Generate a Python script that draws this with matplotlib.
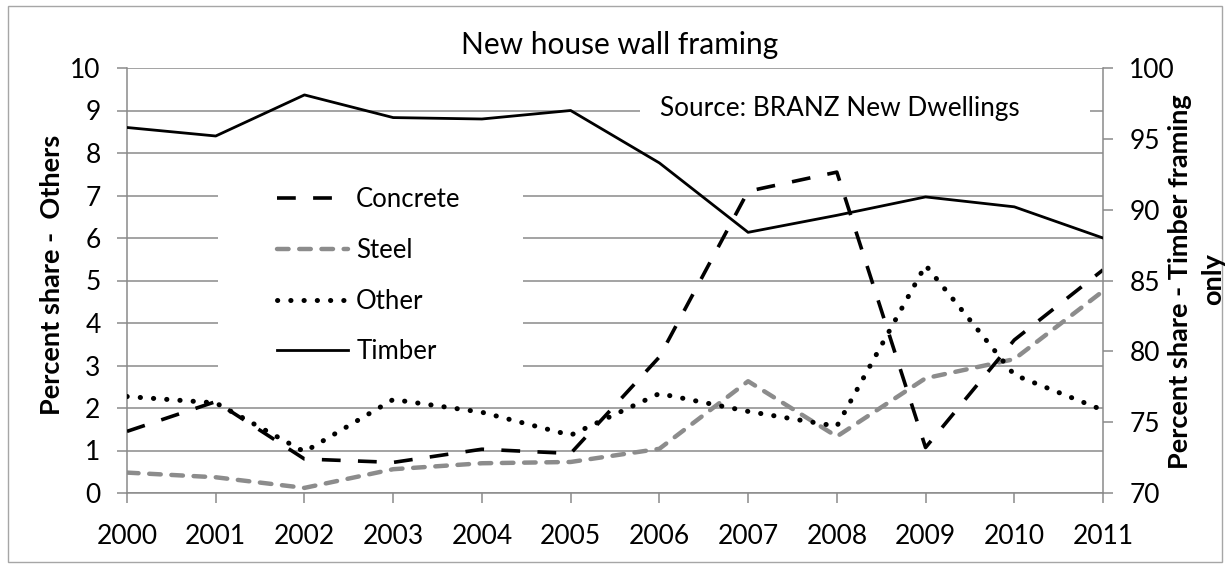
import matplotlib
matplotlib.use("Agg")
import matplotlib.pyplot as plt
from matplotlib.patches import Rectangle

plt.rcParams['font.family'] = ['Lato', 'DejaVu Sans']

# wall framing market share by year
years = list(range(2000, 2012))
concrete = [1.45, 2.15, 0.8, 0.72, 1.03, 0.93, 3.2, 7.1, 7.55, 1.07, 3.6, 5.25]
steel = [0.48, 0.37, 0.12, 0.56, 0.7, 0.73, 1.04, 2.63, 1.33, 2.7, 3.15, 4.75]
other = [2.27, 2.12, 0.97, 2.2, 1.9, 1.36, 2.34, 1.92, 1.57, 5.36, 2.78, 1.95]
timber = [95.8, 95.2, 98.1, 96.5, 96.4, 97.0, 93.3, 88.4, 89.6, 90.9, 90.2, 88.0]

W, H = 1231, 568
GRID = "#8a8a8a"
FS = 19


def px(x0, y0, x1, y1):
    """figure rect in pixel coords (y from top) -> add_axes rect"""
    return [x0 / W, 1 - y1 / H, (x1 - x0) / W, (y1 - y0) / H]


def axpt(x, y):
    """pixel position (y from top) -> axes fraction of the plot area"""
    return (x - 127) / 976, (493 - y) / 425


fig = plt.figure(figsize=(W / 100, H / 100), dpi=100)
fig.patches.append(Rectangle((8 / W, 1 - 562 / H), 1214 / W, 556 / H,
                             transform=fig.transFigure, fill=False,
                             edgecolor="#a6a6a6", lw=1.0))

ax = fig.add_axes(px(127, 68, 1103, 493))
ax2 = ax.twinx()

ax.set_xlim(2000, 2011)
ax.set_ylim(0, 10)
ax2.set_ylim(70, 100)
ax.set_xticks(years)
ax.set_yticks(range(0, 11))
ax2.set_yticks(range(70, 101, 5))

ax.set_axisbelow(True)
ax.grid(axis="y", color=GRID, lw=1.1)
ax.grid(axis="x", visible=False)

for a in (ax, ax2):
    for s in a.spines.values():
        s.set_color(GRID)
        s.set_linewidth(1.1)
    a.spines["top"].set_visible(False)
ax.spines["right"].set_visible(False)
ax2.spines["left"].set_visible(False)
ax2.spines["bottom"].set_visible(False)

ax.tick_params(axis="y", length=7, width=1.1, color=GRID, pad=12, labelsize=FS)
ax.tick_params(axis="x", length=7, width=1.1, color=GRID, pad=15, labelsize=FS)
ax2.tick_params(axis="y", length=7, width=1.1, color=GRID, pad=12, labelsize=FS)

# white boxes behind the legend and source note hide the gridlines
ax.add_patch(Rectangle(axpt(218, 376), 305 / 976, 204 / 425,
                       transform=ax.transAxes, facecolor="white", edgecolor="none", zorder=1))
ax.add_patch(Rectangle(axpt(640, 127), 450 / 976, 38 / 425,
                       transform=ax.transAxes, facecolor="white", edgecolor="none", zorder=1))

l_conc, = ax.plot(years, concrete, color="black", lw=2.6, dashes=(5.2, 4.8),
                  dash_capstyle="butt", zorder=3, label="Concrete")
l_steel, = ax.plot(years, steel, color="#8c8c8c", lw=3.2, dashes=(2.6, 2.4),
                   dash_capstyle="round", zorder=2, label="Steel")
l_other, = ax.plot(years, other, color="black", lw=3.6, dashes=(0.05, 2.6),
                   dash_capstyle="round", zorder=3, label="Other")
l_timb, = ax2.plot(years, timber, color="black", lw=2.0, zorder=3, label="Timber")

fig.text(620 / W, 1 - 45 / H, "New house wall framing", ha="center", va="center",
         fontsize=21.5)
ax.text(*axpt(660, 108), "Source: BRANZ New Dwellings",
        transform=ax.transAxes, ha="left", va="center", fontsize=18.8, zorder=4)

fig.text(52 / W, 1 - 275 / H, "Percent share -  Others", rotation=90,
         ha="center", va="center", fontsize=19.5, fontweight="bold")
fig.text(1180 / W, 1 - 282 / H, "Percent share - Timber framing", rotation=90,
         ha="center", va="center", fontsize=19.5, fontweight="bold")
fig.text(1213 / W, 1 - 279 / H, "only", rotation=90,
         ha="center", va="center", fontsize=19.5, fontweight="bold")

leg = ax2.legend(handles=[l_conc, l_steel, l_other, l_timb], loc="upper left",
                 bbox_to_anchor=axpt(267, 177),
                 frameon=False, fontsize=18.5, handlelength=2.75,
                 handletextpad=0.32, labelspacing=1.0, borderaxespad=0)

fig.savefig("out.png", dpi=100)
